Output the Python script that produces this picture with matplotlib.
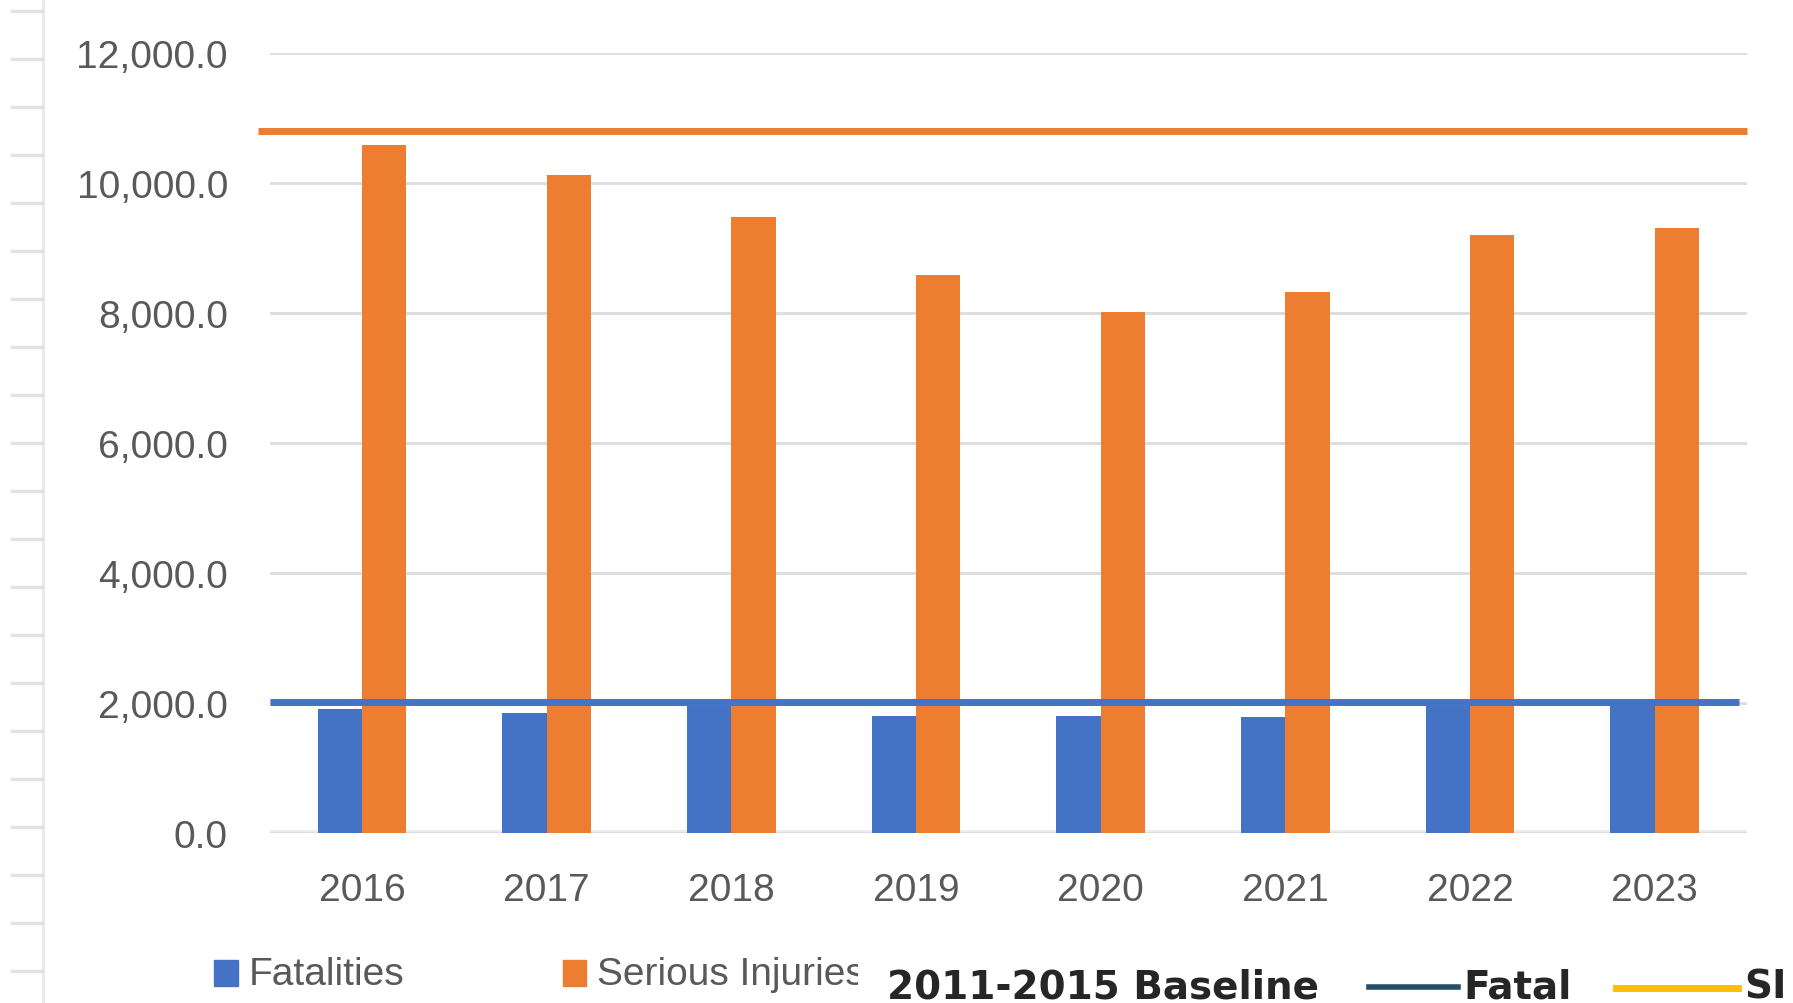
import matplotlib
matplotlib.use("Agg")
import matplotlib.pyplot as plt
import numpy as np
from matplotlib.lines import Line2D
from matplotlib.patches import Rectangle
from matplotlib.transforms import Bbox, TransformedBbox
from matplotlib.ticker import FuncFormatter

years = ['2016', '2017', '2018', '2019', '2020', '2021', '2022', '2023']
fatalities = [1908, 1846, 1959, 1800, 1795, 1792, 1960, 2000]
serious_injuries = [10590, 10130, 9470, 8590, 8020, 8330, 9205, 9310]
fatal_baseline = 2010
si_baseline = 10800
y_ticks = [0, 2000, 4000, 6000, 8000, 10000, 12000]

W, H = 1793, 1004
fig = plt.figure(figsize=(W / 100, H / 100), dpi=100)
fig.patch.set_facecolor('white')


def fx(p):
    return p / W


def fy(p):
    return 1 - p / H


ax = fig.add_axes([fx(269.6), fy(834), fx(1747) - fx(269.6), fy(54) - fy(834)])
x = np.arange(len(years))
bw = 0.24
BLUE = '#4472C4'
ORANGE = '#ED7D31'

ax.axhline(0, color='#ececec', lw=5, zorder=0.5)
ax.bar(x - bw / 2, fatalities, bw, color=BLUE, zorder=2)
ax.bar(x + bw / 2, serious_injuries, bw, color=ORANGE, zorder=2)
ax.plot([-0.563, 7.5], [si_baseline, si_baseline], color=ORANGE, lw=5, clip_on=False, zorder=3,
        solid_capstyle='butt')
ax.plot([-0.5, 7.455], [fatal_baseline, fatal_baseline], color=BLUE, lw=5, clip_on=False, zorder=3,
        solid_capstyle='butt')

ax.set_xlim(-0.5, 7.5)
ax.set_ylim(0, 12000)
ax.set_yticks(y_ticks)
ax.yaxis.set_major_formatter(FuncFormatter(lambda v, p: f'{v:,.1f}'))
ax.set_xticks(x)
ax.set_xticklabels(years)
ax.yaxis.grid(True, color='#dcdcdc', lw=2)
ax.set_axisbelow(True)
for s in ax.spines.values():
    s.set_visible(False)
ax.tick_params(axis='both', length=0, labelsize=28, labelcolor='#595959')
ax.tick_params(axis='y', pad=30)
ax.tick_params(axis='x', pad=28)
for lab in ax.get_xticklabels() + ax.get_yticklabels():
    lab.set_fontfamily(['Liberation Sans', 'DejaVu Sans'])

# spreadsheet-like left decoration
fig.add_artist(Line2D([fx(43), fx(43)], [0, 1], color='#eaeaea', lw=2.5, transform=fig.transFigure))
for k in range(21):
    yy = 11.5 + 48 * k
    fig.add_artist(Line2D([fx(12), fx(42)], [fy(yy), fy(yy)], color='#e2e2e2', lw=2.5,
                          transform=fig.transFigure))

# legend row 1
fig.add_artist(Rectangle((fx(214), fy(987)), fx(238) - fx(214), fy(961) - fy(987),
                         color=BLUE, transform=fig.transFigure))
fig.text(fx(249), fy(975), 'Fatalities', fontsize=28, color='#595959', va='center',
         family=['Liberation Sans', 'DejaVu Sans'])
fig.add_artist(Rectangle((fx(563), fy(987)), fx(586) - fx(563), fy(961) - fy(987),
                         color=ORANGE, transform=fig.transFigure))
t = fig.text(fx(597), fy(975), 'Serious Injuries', fontsize=28, color='#595959', va='center',
             family=['Liberation Sans', 'DejaVu Sans'])
t.set_clip_box(TransformedBbox(Bbox([[0, 0], [fx(858), 1]]), fig.transFigure))
t.set_clip_on(True)

# legend row 2
fig.text(fx(887), fy(988), '2011-2015 Baseline', fontsize=28, color='#262626', va='center',
         fontweight='bold', family=['DejaVu Sans'])
fig.add_artist(Line2D([fx(1369), fx(1458)], [fy(988), fy(988)], color='#264d6b', lw=4,
                      transform=fig.transFigure))
fig.text(fx(1463), fy(988), 'Fatal', fontsize=28, color='#262626', va='center',
         fontweight='bold', family=['DejaVu Sans'])
fig.add_artist(Line2D([fx(1616), fx(1738)], [fy(989), fy(989)], color='#FFC000', lw=5,
                      transform=fig.transFigure))
fig.text(fx(1744), fy(988), 'SI', fontsize=28, color='#262626', va='center',
         fontweight='bold', family=['DejaVu Sans'])

fig.savefig('out.png', dpi=100)
